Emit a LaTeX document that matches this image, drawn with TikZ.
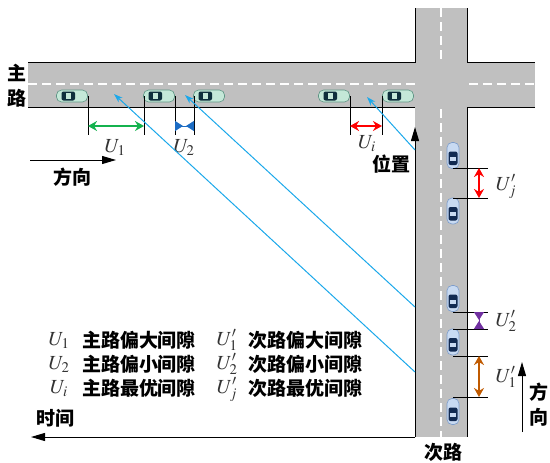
\documentclass[tikz,border=0pt]{standalone}
\usepackage{mathptmx}
\usepackage{fontspec}
\newfontfamily\cjk{Noto Sans CJK SC}
\usetikzlibrary{arrows.meta}

\definecolor{roadgray}{HTML}{C0C0C0}
\definecolor{carmint}{HTML}{C4E8D8}
\definecolor{carmintedge}{HTML}{5E9484}
\definecolor{carblue}{HTML}{C8DAF2}
\definecolor{carblueedge}{HTML}{7C9CCB}
\definecolor{carwin}{HTML}{0E2F3C}
\definecolor{carwinblue}{HTML}{112A52}
\definecolor{flowcyan}{HTML}{1BA8EA}
\definecolor{gapgreen}{HTML}{14B24E}
\definecolor{gapblue}{HTML}{1C6CC4}
\definecolor{gappurple}{HTML}{7030A0}
\definecolor{gapbrown}{HTML}{C05A00}

% car on the main road, driving to the right
\newcommand{\hcar}[1]{%
  \begin{scope}[shift={(#1,96)}]
    \filldraw[fill=carmint,draw=carmintedge,line width=0.6pt,rounded corners=5pt] (-15.5,-6) rectangle (15.5,6);
    \fill[carwin,rounded corners=2pt] (-10.5,-4.5) rectangle (3,4.5);
    \fill[carmint] (-6.5,-3) rectangle (-1.5,3);
  \end{scope}}
% car on the side road, driving up
\newcommand{\vcar}[1]{%
  \begin{scope}[shift={(453,#1)}]
    \filldraw[fill=carblue,draw=carblueedge,line width=0.6pt,rounded corners=5pt] (-6,-13) rectangle (6,13);
    \fill[carwinblue,rounded corners=2pt] (-4.5,-4) rectangle (4.5,9.5);
    \fill[carblue] (-3,1) rectangle (3,5);
  \end{scope}}

\begin{document}
\begin{tikzpicture}[x=1pt,y=-1pt,
    road/.style={fill=roadgray,draw=none},
    edge/.style={black,line width=1pt},
    lane/.style={white,line width=2pt,dash pattern=on 9pt off 5pt},
    tick/.style={black,line width=0.8pt},
    gap/.style={line width=1.4pt,{Stealth[length=9pt,width=10pt]}-{Stealth[length=9pt,width=10pt]}},
    shortgap/.style={line width=1pt,{Triangle[reversed,length=8pt,width=10pt]}-{Triangle[reversed,length=8pt,width=10pt]}},
    flow/.style={flowcyan,line width=1pt,-{Stealth[length=9pt,width=6pt]}},
    axis/.style={black,line width=1pt,-{Triangle[length=14pt,width=8pt]}},
    lab/.style={font=\cjk\bfseries\fontsize{19}{21}\selectfont,inner sep=0pt},
    sym/.style={font=\fontsize{20}{22}\selectfont,text=black!80,inner sep=0pt,
      text height=13pt,text depth=3pt}]
\useasboundingbox (0,0) rectangle (550,463);

% roads
\fill[road] (28,62) rectangle (535,107);
\fill[road] (415,8) rectangle (467,437);
\draw[edge] (28,62) -- (415,62) -- (415,8);
\draw[edge] (467,8) -- (467,62) -- (535,62);
\draw[edge] (28,107) -- (415,107);
\draw[edge] (535,107) -- (467,107) -- (467,437);
\draw[lane] (28,84) -- (415,84);
\draw[lane] (469,84) -- (535,84);
\draw[lane] (441,8) -- (441,62);
\draw[lane] (441,109) -- (441,437);

% cars
\hcar{72} \hcar{159} \hcar{209} \hcar{334} \hcar{398}
\vcar{155.5} \vcar{211} \vcar{298.5} \vcar{342} \vcar{411.5}

% axes
\coordinate (origin) at (415,437);
\coordinate (postip) at (415,127);
\coordinate (timetip) at (31,437);
\draw[axis] (origin) -- (postip);
\draw[axis] (origin) -- (timetip);
\node[lab] (pos) at (391,164) {位置};
\node[lab] (time) at (55,418) {时间};

% gaps on the main road
\coordinate (a1) at (88,96);  \coordinate (a2) at (144,96);
\coordinate (b1) at (175,96); \coordinate (b2) at (194,96);
\coordinate (c1) at (350,96); \coordinate (c2) at (382,96);
\foreach \p in {a1,a2,b1,b2,c1,c2}
  \draw[tick] (\p) -- ++(0,39);
\draw[gap,gapgreen] ([yshift=-30pt]a1) -- ([yshift=-30pt]a2);
\draw[shortgap,gapblue] ([yshift=-30pt]b1) -- ([yshift=-30pt]b2);
\draw[gap,red] ([yshift=-30pt]c1) -- ([yshift=-30pt]c2);
\node[sym] (u1) at (115,147) {$U_1$};
\node[sym] (u2) at (184,147) {$U_2$};
\node[sym] (ui) at (367,143) {$U_i$};

% gaps on the side road
\coordinate (d1) at (453,168); \coordinate (d2) at (453,198);
\coordinate (e1) at (453,312); \coordinate (e2) at (453,329);
\coordinate (f1) at (453,356); \coordinate (f2) at (453,397);
\foreach \p in {d1,d2,e1,e2,f1,f2}
  \draw[tick] (\p) -- ++(35,0);
\draw[gap,red] ([xshift=26pt]d1) -- ([xshift=26pt]d2);
\draw[shortgap,gappurple] ([xshift=26pt]e1) -- ([xshift=26pt]e2);
\draw[gap,gapbrown] ([xshift=26pt]f1) -- ([xshift=26pt]f2);
\node[sym] (uj') at (506,185) {$U_j'$};
\node[sym] (u2') at (506,321) {$U_2'$};
\node[sym] (u1') at (506,377) {$U_1'$};

% time-space lines from the side road to the gaps
\coordinate (s1) at (415,150); \coordinate (g1) at (367,97);
\coordinate (s2) at (415,307); \coordinate (g2) at (185,95);
\coordinate (s3) at (415,372); \coordinate (g3) at (114,94);
\draw[flow] (s1) -- (g1);
\draw[flow] (s2) -- (g2);
\draw[flow] (s3) -- (g3);

% directions and road names
\coordinate (dirA) at (30,160); \coordinate (dirB) at (116,160);
\draw[axis] (dirA) -- (dirB);
\node[lab] (dirmain) at (72,177) {方向};
\coordinate (dirC) at (522,432); \coordinate (dirD) at (522,362);
\draw[axis] (dirC) -- (dirD);
\node[lab] (dirside1) at (539,392) {方};
\node[lab] (dirside2) at (539,417) {向};
\node[lab] (main1) at (17,73) {主};
\node[lab] (main2) at (17,98) {路};
\node[lab] (side) at (443,452) {次路};

% legend
\node[sym] (l1) at (59,340) {$U_1$};
\node[lab] (l1t) at (139,340) {主路偏大间隙};
\node[sym] (l2) at (59,364) {$U_2$};
\node[lab] (l2t) at (139,364) {主路偏小间隙};
\node[sym] (l3) at (59,388) {$U_i$};
\node[lab] (l3t) at (139,388) {主路最优间隙};
\node[sym] (r1) at (227,340) {$U_1'$};
\node[lab] (r1t) at (305,340) {次路偏大间隙};
\node[sym] (r2) at (227,364) {$U_2'$};
\node[lab] (r2t) at (305,364) {次路偏小间隙};
\node[sym] (r3) at (227,388) {$U_j'$};
\node[lab] (r3t) at (305,388) {次路最优间隙};
\end{tikzpicture}
\end{document}
